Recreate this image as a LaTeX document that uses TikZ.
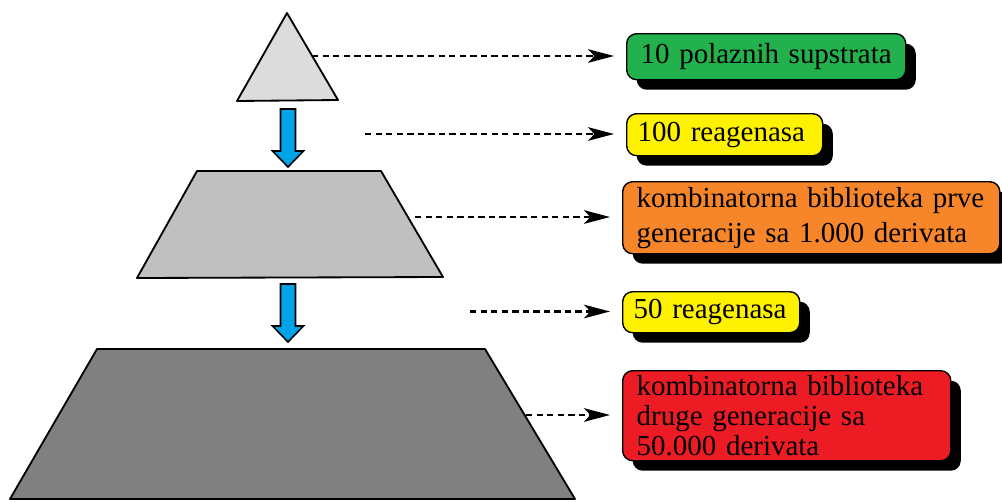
\documentclass[tikz,border=0pt]{standalone}
\usepackage{fontspec}
\setmainfont{Liberation Serif}
\usetikzlibrary{arrows.meta,shadows}

\definecolor{tipgray}{HTML}{DCDCDC}
\definecolor{midgray}{HTML}{C0C0C0}
\definecolor{basegray}{HTML}{808080}
\definecolor{flowblue}{HTML}{00A2E8}
\definecolor{boxgreen}{HTML}{22B14C}
\definecolor{boxyellow}{HTML}{FFF200}
\definecolor{boxorange}{HTML}{F7862A}
\definecolor{boxred}{HTML}{ED1C24}

\begin{document}
\begin{tikzpicture}[
  x=0.025cm, y=-0.025cm,
  font=\fontsize{20.6}{25}\selectfont,
  level/.style={
    draw,
    line width=1.3pt,
    line join=round
  },
  blockarr/.style={
    draw,
    fill=flowblue,
    line width=1.1pt
  },
  infobox/.style={
    draw,
    anchor=north west,
    rounded corners=2.5mm,
    align=left,
    inner xsep=3.5mm,
    inner ysep=0pt,
    line width=1pt,
    drop shadow={shadow xshift=2.5mm, shadow yshift=-2.5mm,
      fill=black, opacity=1}
  },
  dasharr/.style={
    -{Stealth[length=6.5mm, width=3.4mm, inset=1.6mm]},
    line width=1.6pt,
    dash pattern=on 4.5pt off 3pt,
    shorten >=3mm
  }
]

\useasboundingbox (0,0) rectangle (1002,501);

% pyramid levels
\draw[level, fill=tipgray] (287,13) -- (338,100) -- (237,101) -- cycle;
\draw[level, fill=midgray] (197,171) -- (381,171) -- (443,277) -- (137,278) -- cycle;
\draw[level, fill=basegray] (97,349) -- (485,349) -- (575,499) -- (10,499) -- cycle;

% blue arrows between levels
\foreach \t in {109,284}{
  \draw[blockarr] (280.5,\t) -- ++(15,0) -- ++(0,42) -- ++(8,0)
    -- ++(-15.5,16) -- ++(-15.5,-16) -- ++(8,0) -- cycle;
}

% labels
\node[infobox, fill=boxgreen, text width=6.275cm, minimum height=1.15cm]
  (subs) at (626,33) {10 polaznih supstrata};

\node[infobox, fill=boxyellow, inner xsep=2.75mm, text width=4.35cm,
  minimum height=1.05cm]
  (reag1) at (626,113) {100 reagenasa};

\node[infobox, fill=boxorange, text width=8.725cm, minimum height=1.8cm]
  (lib1) at (622,181)
  {kombinatorna biblioteka prve\\generacije sa 1.000 derivata};

\node[infobox, fill=boxyellow, inner xsep=2.75mm, text width=3.875cm,
  minimum height=1.025cm]
  (reag2) at (622,291) {50 reagenasa};

\node[infobox, fill=boxred, text width=7.5cm, minimum height=2.25cm,
  font=\fontsize{20.6}{21.5}\selectfont]
  (lib2) at (622,370)
  {kombinatorna biblioteka\\druge generacije sa\\50.000 derivata};

% dashed pointers
\coordinate (p1) at (312,56);
\coordinate (p2) at (365,134);
\coordinate (p3) at (415,217);
\coordinate (p4) at (470,311.5);
\coordinate (p5) at (526,415);

\draw[dasharr] (p1) -- (p1 -| subs.west);
\draw[dasharr] (p2) -- (p2 -| reag1.west);
\draw[dasharr] (p3) -- (p3 -| lib1.west);
\draw[dasharr] (p4) -- (p4 -| reag2.west);
\draw[dasharr] (p5) -- (p5 -| lib2.west);

\end{tikzpicture}
\end{document}
